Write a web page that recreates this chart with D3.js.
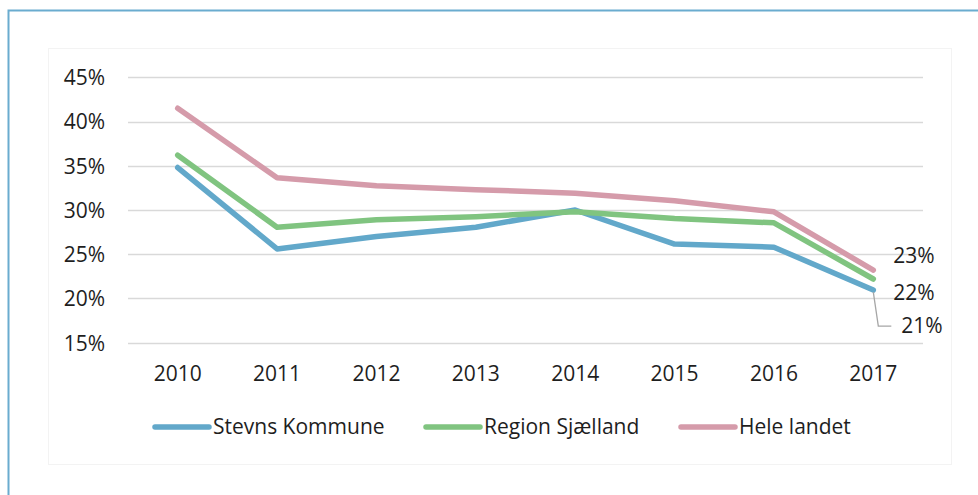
<!DOCTYPE html>
<html><head><meta charset="utf-8">
<script src="https://cdn.jsdelivr.net/npm/d3@7/dist/d3.min.js"></script>
<style>
html,body{margin:0;padding:0;background:#fff;}
svg{display:block;font-family:"Open Sans",sans-serif;}
</style></head>
<body><svg id="c" width="978" height="495"></svg>
<script>
const years = ["2010","2011","2012","2013","2014","2015","2016","2017"];
const stevns = [34.8, 25.6, 27.0, 28.05, 30.0, 26.15, 25.8, 20.95];
const region = [36.2, 28.05, 28.9, 29.25, 29.8, 29.05, 28.55, 22.2];
const hele   = [41.5, 33.65, 32.75, 32.3, 31.9, 31.05, 29.8, 23.2];
const seriesNames = ["Stevns Kommune", "Region Sjælland", "Hele landet"];
const seriesColors = ["#62a8ca", "#80c480", "#d59baa"];
const yTicks = [15, 20, 25, 30, 35, 40, 45];
const endLabels = ["21%", "22%", "23%"];

const series = [stevns, region, hele];
const svg = d3.select("#c");
const FS = 21;
const TXT = "#1e1e1e";

// outer frame and faint inner box
svg.append("rect").attr("x", 8.5).attr("y", 10.5).attr("width", 1000).attr("height", 600)
  .attr("fill", "none").attr("stroke", "#6aaccf").attr("stroke-width", 2);
svg.append("rect").attr("x", 48.5).attr("y", 48.5).attr("width", 903).attr("height", 416)
  .attr("fill", "none").attr("stroke", "#f3f3f3").attr("stroke-width", 1);

const x = d3.scaleBand().domain(years).range([128, 923]).padding(0);
const y = d3.scaleLinear().domain([15, 45]).range([342.7, 77.3]);
const cx = d => x(d) + x.bandwidth() / 2;

// gridlines
svg.append("g").selectAll("line").data(yTicks).join("line")
  .attr("x1", 128).attr("x2", 923)
  .attr("y1", d => Math.round(y(d)) + 0.5).attr("y2", d => Math.round(y(d)) + 0.5)
  .attr("stroke", "#d9d9d9").attr("stroke-width", 1.3);

// y axis
const yAxis = d3.axisLeft(y).tickValues(yTicks).tickSize(0).tickPadding(0).tickFormat(d => d + "%");
const gy = svg.append("g").attr("transform", "translate(105,0)").call(yAxis);
gy.select(".domain").remove();
gy.selectAll("text").attr("font-family", "Open Sans").attr("font-size", FS).attr("fill", TXT)
  .attr("dy", "0.35em");

// x axis
const xAxis = d3.axisBottom(x).tickSize(0).tickPadding(0);
const gx = svg.append("g").attr("transform", "translate(0,366)").call(xAxis);
gx.select(".domain").remove();
gx.selectAll("text").attr("font-family", "Open Sans").attr("font-size", FS).attr("fill", TXT)
  .attr("dy", "0.71em");

// lines
const line = d3.line().x((d, i) => cx(years[i])).y(d => y(d));
series.forEach((s, k) => {
  svg.append("path").datum(s).attr("d", line).attr("fill", "none")
    .attr("stroke", seriesColors[k]).attr("stroke-width", 5.5)
    .attr("stroke-linejoin", "round").attr("stroke-linecap", "round");
});

// end labels
const last = years.length - 1;
const lx = cx(years[last]);
const lbl = (t, xx, yy) => svg.append("text").attr("x", xx).attr("y", yy).text(t)
  .attr("font-size", FS).attr("fill", TXT).attr("dy", "0.35em");
lbl(endLabels[2], lx + 20, y(hele[last]) - 15);
lbl(endLabels[1], lx + 20, y(region[last]) + 14);
lbl(endLabels[0], lx + 28, y(stevns[last]) + 36);
svg.append("path")
  .attr("d", `M${lx},${y(stevns[last]) + 2} L${lx + 5},${y(stevns[last]) + 36} L${lx + 18},${y(stevns[last]) + 36}`)
  .attr("fill", "none").attr("stroke", "#a6a6a6").attr("stroke-width", 1.3);

// legend
const legX = [155, 426, 681];
const legY = 427;
seriesNames.forEach((n, k) => {
  svg.append("line").attr("x1", legX[k]).attr("x2", legX[k] + 54).attr("y1", legY).attr("y2", legY)
    .attr("stroke", seriesColors[k]).attr("stroke-width", 5.5).attr("stroke-linecap", "round");
  svg.append("text").attr("x", legX[k] + 58).attr("y", legY).attr("dy", "0.35em")
    .attr("font-size", FS).attr("fill", TXT).text(n);
});
</script></body></html>
